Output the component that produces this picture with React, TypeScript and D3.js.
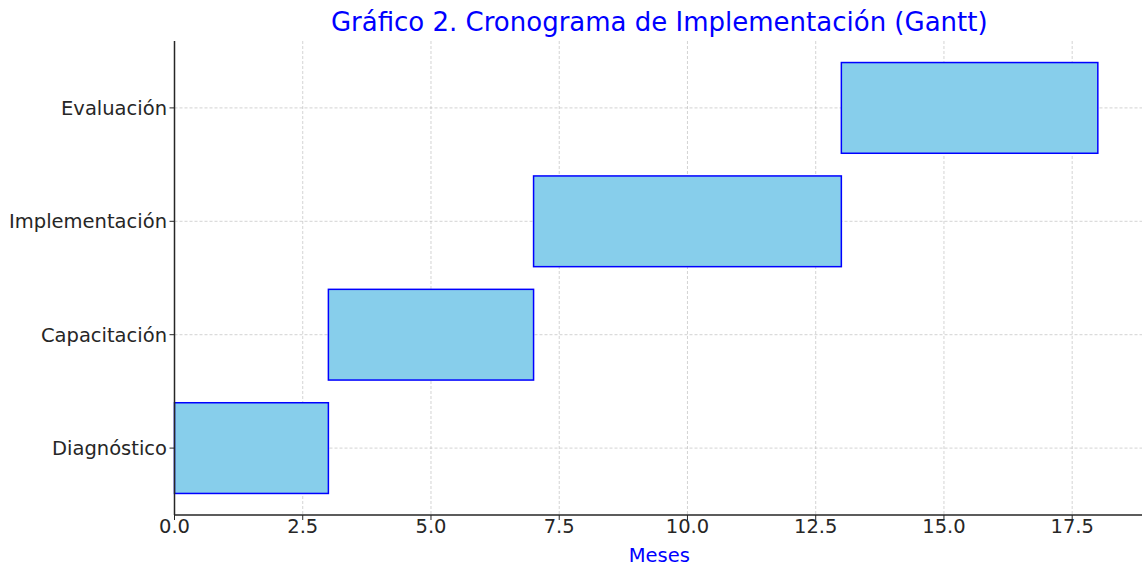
import React from "react";
import * as d3 from "d3";

const tasks = ["Diagnóstico", "Capacitación", "Implementación", "Evaluación"];
const starts = [0, 3, 7, 13];
const durations = [3, 4, 6, 5];
const xTicks = [0, 2.5, 5, 7.5, 10, 12.5, 15, 17.5];
const title = "Gráfico 2. Cronograma de Implementación (Gantt)";
const xLabel = "Meses";

const W = 1142;
const H = 566;
const M = { left: 174.5, right: 1144, top: 41, bottom: 515 };

export default function App() {
  const x = d3.scaleLinear().domain([0, 18.9]).range([M.left, M.right]);
  const y = d3.scaleLinear().domain([-0.59, 3.59]).range([M.bottom, M.top]);
  const barH = 0.8;
  const font = "'DejaVu Sans', sans-serif";
  const textColor = "#262626";
  return (
    <svg width={W} height={H} style={{ position: "absolute", left: 0, top: 0, background: "#fff" }} fontFamily={font}>
      <g>
        {xTicks.map((t) => (
          <line key={"gx" + t} x1={x(t)} x2={x(t)} y1={M.top} y2={M.bottom} stroke="#b0b0b0" strokeOpacity={0.7} strokeWidth={0.8} strokeDasharray="3,2" />
        ))}
        {tasks.map((c, i) => (
          <line key={"gy" + c} x1={M.left} x2={W} y1={y(i)} y2={y(i)} stroke="#b0b0b0" strokeOpacity={0.7} strokeWidth={0.8} strokeDasharray="3,2" />
        ))}
      </g>
      <g>
        {tasks.map((c, i) => (
          <rect
            key={c}
            x={x(starts[i])}
            y={y(i + barH / 2)}
            width={x(starts[i] + durations[i]) - x(starts[i])}
            height={y(i - barH / 2) - y(i + barH / 2)}
            fill="#87CEEB"
            stroke="#0000ff"
            strokeWidth={1.5}
          />
        ))}
      </g>
      <line x1={M.left} x2={M.left} y1={M.top} y2={M.bottom} stroke={textColor} strokeWidth={1.5} />
      <line x1={M.left} x2={W} y1={M.bottom} y2={M.bottom} stroke={textColor} strokeWidth={1.5} />
      {xTicks.map((t) => (
        <g key={"xt" + t}>
          <line x1={x(t)} x2={x(t)} y1={M.bottom} y2={M.bottom + 5} stroke={textColor} strokeWidth={1} />
          <text x={x(t)} y={526} dy="0.35em" textAnchor="middle" fontSize={19.5} fill={textColor}>
            {t.toFixed(1)}
          </text>
        </g>
      ))}
      {tasks.map((c, i) => (
        <g key={"yt" + c}>
          <line x1={M.left - 5} x2={M.left} y1={y(i)} y2={y(i)} stroke={textColor} strokeWidth={1} />
          <text x={M.left - 7.5} y={y(i)} dy="0.35em" textAnchor="end" fontSize={19.5} fill={textColor}>
            {c}
          </text>
        </g>
      ))}
      <text x={(M.left + M.right) / 2} y={555} dy="0.35em" textAnchor="middle" fontSize={19.5} fill="#0000ff">
        {xLabel}
      </text>
      <text x={(M.left + M.right) / 2} y={22} dy="0.35em" textAnchor="middle" fontSize={26} fill="#0000ff">
        {title}
      </text>
    </svg>
  );
}
